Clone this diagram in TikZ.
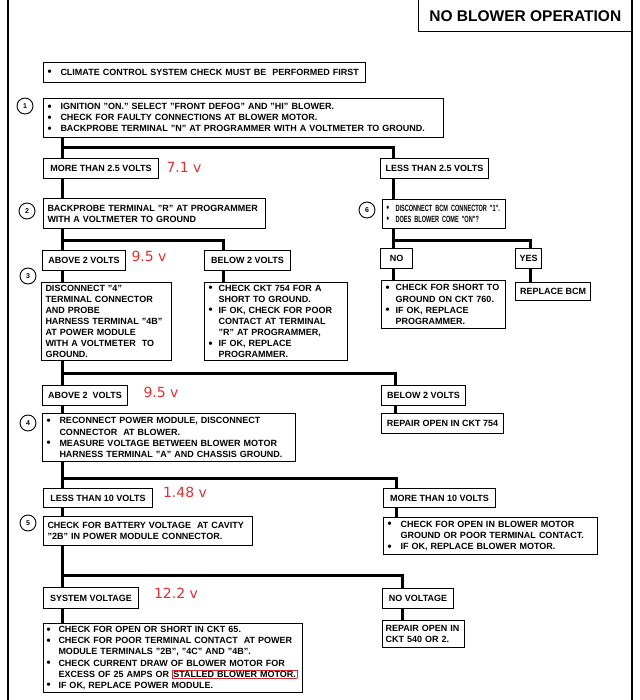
\documentclass[tikz,border=0pt]{standalone}
\usepackage{fontspec}
\setmainfont{Liberation Sans}
\newfontfamily\valuefont{DejaVu Sans}
\newfontfamily\narrowfont[FakeStretch=0.62]{Liberation Sans}
\usepackage{xcolor}
\usetikzlibrary{positioning}
\definecolor{ValueColor}{HTML}{E0302F}
\definecolor{MarkColor}{HTML}{D22630}
\colorlet{LineColor}{black}
\newlength{\trunkwidth}
\setlength{\trunkwidth}{3pt}
\newcommand{\bl}[1][13pt]{\makebox[#1][l]{\raisebox{-0.5pt}{\fontsize{11.5}{11.5}\selectfont\textbullet}}}
\newcommand{\hg}[1][13pt]{\hspace*{#1}}
\newcommand{\stalled}[1]{{\setlength{\fboxsep}{0.6pt}\setlength{\fboxrule}{0.7pt}\smash{\fcolorbox{MarkColor}{white}{#1}}}}

\begin{document}
\begin{tikzpicture}[
      x=1pt, y=-1pt,
      every node/.style={font=\fontsize{9}{11.1}\selectfont\bfseries},
      frame/.style={draw=LineColor, line width=1.6pt},
      box/.style={draw=LineColor, line width=1pt, anchor=north west, inner xsep=4pt, inner ysep=2pt},
      labelbox/.style={box, minimum width=#1, minimum height=20pt},
      listbox/.style 2 args={box, align=left, text width=#1, minimum height=#2},
      stepno/.style={circle, draw=LineColor, line width=0.9pt, minimum size=16pt, inner sep=0pt,
        font=\fontsize{7}{7}\selectfont\bfseries},
      value/.style={text=ValueColor, inner sep=0pt, font=\valuefont\fontsize{14}{14}\selectfont},
      trunk/.style={draw=LineColor, line width=\trunkwidth},
  ]
  \useasboundingbox (0,0) rectangle (639,700);
  % ┌────────┐
  % │ Rahmen │
  % └────────┘
  \coordinate (topleft) at (8,0);
  \coordinate (bottomleft) at (8,700);
  \coordinate (topright) at (632,0);
  \coordinate (bottomright) at (632,700);
  \draw[frame] (topleft) -- (bottomleft);
  \draw[frame] (topright) -- (bottomright);
  \node[anchor=north east, minimum width=213pt, minimum height=31pt, inner sep=0pt,
    font=\fontsize{15.5}{15.5}\selectfont\bfseries] (title) at (topright) {NO BLOWER OPERATION};
  \draw[frame] (title.north west) |- (title.south east);
  % ┌──────────┐
  % │ Schritte │
  % └──────────┘
  \node[listbox={314}{20}] (climate) at (43,62) {\bl CLIMATE CONTROL SYSTEM CHECK MUST BE\ \ PERFORMED FIRST};
  \node[stepno] (s1) at (25,106) {1};
  \node[listbox={392}{39}] (probeN) at (43,98) {\bl IGNITION "ON." SELECT "FRONT DEFOG" AND "HI" BLOWER.\\
    \bl CHECK FOR FAULTY CONNECTIONS AT BLOWER MOTOR.\\
    \bl BACKPROBE TERMINAL "N" AT PROGRAMMER WITH A VOLTMETER TO GROUND.};
  \node[labelbox=115] (more25) at (43,158) {MORE THAN 2.5 VOLTS};
  \node[labelbox=108] (less25) at (380,158) {LESS THAN 2.5 VOLTS};
  \node[stepno] (s2) at (27,211) {2};
  \node[listbox={214}{30}] (probeR) at (43,198) {BACKPROBE TERMINAL "R" AT PROGRAMMER\\WITH A VOLTMETER TO GROUND};
  \node[stepno] (s6) at (367,210) {6};
  \node[listbox={115}{29}, font=\narrowfont\fontsize{9}{11.1}\selectfont\bfseries] (bcm) at (382,199)
    {\bl[9pt]DISCONNECT BCM CONNECTOR "1".\\\bl[9pt]DOES BLOWER COME "ON"?};
  \node[labelbox=83] (above2a) at (42,250) {ABOVE 2 VOLTS};
  \node[labelbox=86] (below2a) at (204,250) {BELOW 2 VOLTS};
  \node[labelbox=32] (no) at (380,248) {NO};
  \node[labelbox=26] (yes) at (515,248) {YES};
  \node[stepno] (s3) at (28,276) {3};
  \node[listbox={122}{78}] (probe4B) at (41,282) {DISCONNECT "4"\\TERMINAL CONNECTOR\\AND PROBE\\
    HARNESS TERMINAL "4B"\\AT POWER MODULE\\WITH A VOLTMETER\ \ TO\\GROUND.};
  \node[listbox={135}{78}] (ckt754) at (204,282) {\bl[10pt]CHECK CKT 754 FOR A\\\hg[10pt]SHORT TO GROUND.\\
    \bl[10pt]IF OK, CHECK FOR POOR\\\hg[10pt]CONTACT AT TERMINAL\\\hg[10pt]"R" AT PROGRAMMER,\\
    \bl[10pt]IF OK, REPLACE\\\hg[10pt]PROGRAMMER.};
  \node[listbox={116}{48}] (ckt760) at (381,280) {\bl[10pt]CHECK FOR SHORT TO\\\hg[10pt]GROUND ON CKT 760.\\
    \bl[10pt]IF OK, REPLACE\\\hg[10pt]PROGRAMMER.};
  \node[labelbox=75, minimum height=18pt] (bcmrep) at (515,282) {REPLACE BCM};
  \node[labelbox=85] (above2b) at (42,385) {ABOVE 2\ \ VOLTS};
  \node[labelbox=84] (below2b) at (381,385) {BELOW 2 VOLTS};
  \node[labelbox=122] (open754) at (381,413) {REPAIR OPEN IN CKT 754};
  \node[stepno] (s4) at (28,423) {4};
  \node[listbox={245}{48}] (probeA) at (42,413) {\bl RECONNECT POWER MODULE, DISCONNECT\\\hg CONNECTOR\ \ AT BLOWER.\\
    \bl MEASURE VOLTAGE BETWEEN BLOWER MOTOR\\\hg HARNESS TERMINAL "A" AND CHASSIS GROUND.};
  \node[labelbox=109, minimum height=19pt] (less10) at (43,488) {LESS THAN 10 VOLTS};
  \node[labelbox=112, minimum height=19pt] (more10) at (383,488) {MORE THAN 10 VOLTS};
  \node[listbox={206}{37}] (motor) at (383,517) {\bl CHECK FOR OPEN IN BLOWER MOTOR\\\hg GROUND OR POOR TERMINAL CONTACT.\\
    \bl IF OK, REPLACE BLOWER MOTOR.};
  \node[stepno] (s5) at (28,523) {5};
  \node[listbox={201}{29}] (cavity) at (43,516) {CHECK FOR BATTERY VOLTAGE\ \ AT CAVITY\\"2B" IN POWER MODULE CONNECTOR.};
  \node[labelbox=95, minimum height=21pt] (sysvolt) at (43,587) {SYSTEM VOLTAGE};
  \node[labelbox=71] (novolt) at (382,588) {NO VOLTAGE};
  \node[listbox={76}{27}, inner xsep=3pt] (open540) at (382,620) {REPAIR OPEN IN\\CKT 540 OR 2.};
  \node[listbox={253}{69}, inner xsep=3pt] (power) at (43,623) {\bl[12pt]CHECK FOR OPEN OR SHORT IN CKT 65.\\
    \bl[12pt]CHECK FOR POOR TERMINAL CONTACT\ \ AT POWER\\\hg[12pt]MODULE TERMINALS "2B", "4C" AND "4B".\\
    \bl[12pt]CHECK CURRENT DRAW OF BLOWER MOTOR FOR\\\hg[12pt]EXCESS OF 25 AMPS OR \stalled{STALLED BLOWER MOTOR.}\\
    \bl[12pt]IF OK, REPLACE POWER MODULE.};
  % ┌───────────┐
  % │ Messwerte │
  % └───────────┘
  \node[value] (v71) at (184,167) {7.1 v};
  \node[value] (v95a) at (149,256) {9.5 v};
  \node[value] (v95b) at (161,392) {9.5 v};
  \node[value] (v148) at (185,492) {1.48 v};
  \node[value] (v122) at (176,593) {12.2 v};
  % ┌───────────────────┐
  % │ Verbindungslinien │
  % └───────────────────┘
  \coordinate (lane) at (62,0);
  \foreach \a/\b in {probeN/more25, more25/probeR, probeR/above2a, above2a/probe4B, probe4B/above2b,
      above2b/probeA, probeA/less10, less10/cavity, cavity/sysvolt, sysvolt/power}
    \draw[trunk] (\a.south -| lane) -- (\b.north -| lane);
  \coordinate (fork1) at (393,148);
  \coordinate (fork2) at (223,241);
  \coordinate (fork3) at (395,373);
  \coordinate (fork4) at (396,478);
  \coordinate (fork5) at (402,575);
  \coordinate (yesfork) at (530,241);
  \foreach \f/\a/\b in {fork1/less25/bcm, fork2/below2a/ckt754, fork3/below2b/open754,
      fork4/more10/motor, fork5/novolt/open540} {
    \draw[trunk] (\f -| lane) -- (\f) -- (\a.north -| \f);
    \draw[trunk] (\a.south -| \f) -- (\b.north -| \f);
  }
  \draw[trunk] (bcm.south -| fork1) -- (no.north -| fork1);
  \draw[trunk] (yesfork -| fork1) -- (yesfork) -- (yes.north -| yesfork);
  \draw[trunk] (no.south -| fork1) -- (ckt760.north -| fork1);
  \draw[trunk] (yes.south -| yesfork) -- (bcmrep.north -| yesfork);
\end{tikzpicture}
\end{document}
